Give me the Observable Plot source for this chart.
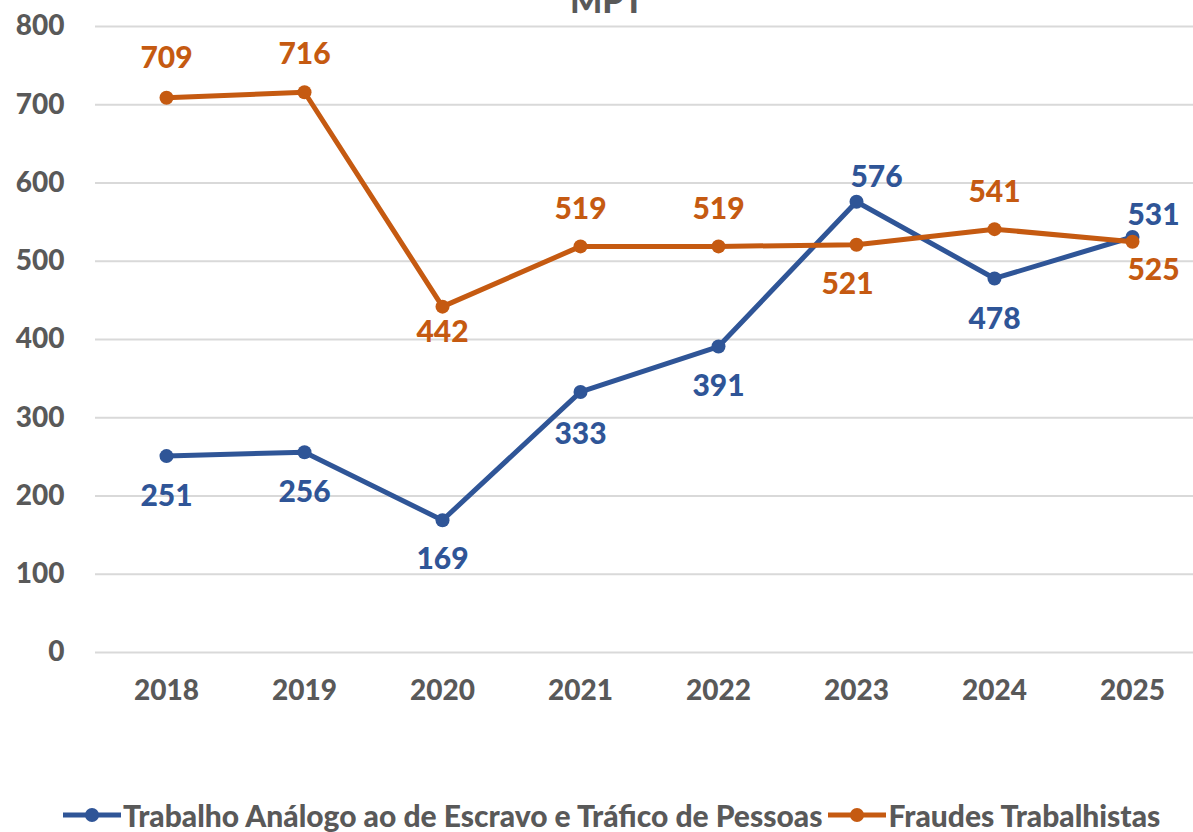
<!DOCTYPE html>
<html>
<head>
<meta charset="utf-8">
<script src="https://cdn.jsdelivr.net/npm/d3@7"></script>
<script src="https://cdn.jsdelivr.net/npm/@observablehq/plot@0.6"></script>
<style>
  html, body { margin: 0; padding: 0; background: #fff; overflow: hidden; }
  body { width: 1193px; height: 832px; position: relative; font-family: Lato, "Noto Sans", sans-serif; }
  #title { position: absolute; left: 0; width: 1214px; top: -20px; text-align: center;
           font-size: 34px; font-weight: 900; color: #595959; line-height: 40px; }
  #chart { position: absolute; left: 0; top: 0; }
  #legend { position: absolute; left: 63px; top: 796px; display: flex; align-items: center;
            font-size: 30px; font-weight: 900; color: #595959; line-height: 38px; white-space: nowrap; }
  #legend .item { display: flex; align-items: center; margin-right: 6px; }
  #legend svg { margin-right: 2px; }
</style>
</head>
<body>
<div id="title">MPT</div>
<div id="chart"></div>
<div id="legend"></div>
<script>
const years = ["2018", "2019", "2020", "2021", "2022", "2023", "2024", "2025"];
const trabalho = [251, 256, 169, 333, 391, 576, 478, 531];
const fraudes = [709, 716, 442, 519, 519, 521, 541, 525];
const seriesNames = ["Trabalho Análogo ao de Escravo e Tráfico de Pessoas", "Fraudes Trabalhistas"];
const seriesColors = ["#2F5597", "#C55A11"];
const yTicks = [0, 100, 200, 300, 400, 500, 600, 700, 800];

// label nudges (dx, dy) per point, as placed in the original
const trabalhoLabelNudge = [[0, 40], [0, 40], [0, 39], [0, 42], [0, 40], [20, -24], [0, 41], [21, -22]];
const fraudesLabelNudge = [[0, -39], [0, -38], [0, 26], [0, -37], [0, -37], [-9, 40], [0, -37], [21, 29]];

const rows = [];
years.forEach((yr, i) => {
  rows.push({year: yr, value: trabalho[i], series: seriesNames[0], color: seriesColors[0], dx: trabalhoLabelNudge[i][0], dy: trabalhoLabelNudge[i][1]});
});
years.forEach((yr, i) => {
  rows.push({year: yr, value: fraudes[i], series: seriesNames[1], color: seriesColors[1], dx: fraudesLabelNudge[i][0], dy: fraudesLabelNudge[i][1]});
});

const labelMarks = rows.map(r => Plot.text([r], {
  x: "year", y: "value", text: d => String(d.value),
  fill: r.color, fontSize: 30, fontWeight: 900, dx: r.dx, dy: r.dy
}));

const plot = Plot.plot({
  width: 1193,
  height: 720,
  marginTop: 26,
  marginBottom: 68,
  marginLeft: 95,
  marginRight: 0,
  style: {fontFamily: "Lato, 'Noto Sans', sans-serif", background: "transparent", overflow: "visible"},
  x: {type: "point", domain: years, range: [164, 1134], padding: 0, label: null},
  y: {domain: [0, 800], label: null},
  marks: [
    Plot.ruleY(yTicks, {stroke: "#D9D9D9", strokeWidth: 2}),
    Plot.axisY({ticks: yTicks, tickSize: 0, tickPadding: 31, fontSize: 28, fontWeight: 900, fill: "#595959", label: null}),
    Plot.axisX({tickSize: 0, tickPadding: 28, fontSize: 28, fontWeight: 900, fill: "#595959", label: null}),
    Plot.line(rows.filter(d => d.series === seriesNames[0]), {x: "year", y: "value", stroke: seriesColors[0], strokeWidth: 5}),
    Plot.dot(rows.filter(d => d.series === seriesNames[0]), {x: "year", y: "value", fill: seriesColors[0], r: 7}),
    Plot.line(rows.filter(d => d.series === seriesNames[1]), {x: "year", y: "value", stroke: seriesColors[1], strokeWidth: 5}),
    Plot.dot(rows.filter(d => d.series === seriesNames[1]), {x: "year", y: "value", fill: seriesColors[1], r: 7}),
    ...labelMarks
  ]
});
document.getElementById("chart").appendChild(plot);

const legend = document.getElementById("legend");
seriesNames.forEach((name, i) => {
  const item = document.createElement("div");
  item.className = "item";
  item.innerHTML = `<svg width="58" height="16" viewBox="0 0 58 16"><line x1="0" y1="8" x2="58" y2="8" stroke="${seriesColors[i]}" stroke-width="5"/><circle cx="29" cy="8" r="7" fill="${seriesColors[i]}"/></svg><span>${name}</span>`;
  legend.appendChild(item);
});
</script>
</body>
</html>
